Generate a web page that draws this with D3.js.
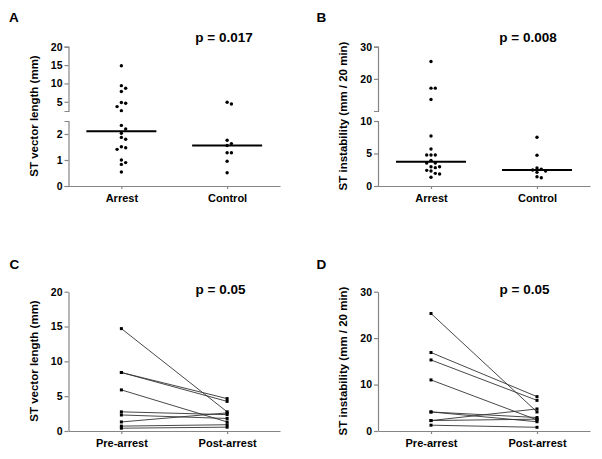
<!DOCTYPE html>
<html><head><meta charset="utf-8">
<script src="https://cdn.jsdelivr.net/npm/d3@7"></script>
<style>
body{margin:0;background:#fff}
text{font-family:"Liberation Sans",Arial,Helvetica,sans-serif;font-weight:bold}
</style>
</head><body>
<svg id="chart" width="602" height="459"></svg>
<script>
// ---------- data ----------
const groupCats = ["Arrest", "Control"];
const pairCats = ["Pre-arrest", "Post-arrest"];

const vecArrest = [14.8, 9.4, 8.7, 7.8, 4.8, 4.6, 3.7, 2.6, 2.33, 2.19, 2.03, 1.87, 1.8, 1.51, 1.47, 1.41, 1.0, 0.9, 0.83, 0.54];
const vecControl = [4.9, 4.4, 1.76, 1.63, 1.56, 1.28, 1.28, 0.95, 0.51];

const instArrest = [25.4, 17.1, 17.1, 13.6, 7.7, 5.7, 4.77, 4.77, 4.77, 3.95, 3.55, 3.55, 2.97, 2.82, 2.97, 2.41, 2.31, 1.95, 1.85, 1.34];
const instControl = [7.5, 4.72, 2.77, 2.6, 2.46, 2.3, 2.1, 1.43, 1.28];

const vecPre  = [14.7, 8.4, 8.4, 5.9, 2.75, 2.3, 1.3, 0.7, 0.4];
const vecPost = [2.75, 4.65, 4.25, 1.3, 2.35, 1.8, 2.6, 0.9, 0.55];

const instPre  = [25.3, 16.9, 15.3, 11.0, 4.1, 4.1, 2.25, 2.25, 1.25];
const instPost = [4.1, 7.4, 6.6, 2.4, 2.9, 2.0, 4.75, 2.55, 0.8];

const ticksALower = [0, 1, 2];
const ticksAUpper = [5, 10, 15, 20];
const ticksBLower = [0, 5, 10];
const ticksBUpper = [20, 30];
const ticksC = [0, 5, 10, 15, 20];
const ticksD = [0, 10, 20, 30];

const panelLetters = ["A", "B", "C", "D"];
const pLabels = ["p = 0.017", "p = 0.008", "p = 0.05", "p = 0.05"];
const titleVec = "ST vector length (mm)";
const titleInst = "ST instability (mm / 20 min)";

// ---------- drawing ----------
const svg = d3.select("#chart");
svg.append("rect").attr("width", 602).attr("height", 459).attr("fill", "#fff");
const AXIS = "#858585";

function styleAxis(g, fs) {
  g.attr("font-size", fs).attr("font-family", null).style("color", "#000");
  g.selectAll(".domain").attr("stroke", AXIS).attr("stroke-width", 1.2);
  g.selectAll(".tick line").attr("stroke", AXIS).attr("stroke-width", 1.2);
}

function swarm(values, xc, yfn, r) {
  const idx = values.map((v, i) => i).sort((a, b) => values[b] - values[a]);
  const placed = [];
  const step = 2 * r + 0.9;
  const out = new Array(values.length);
  idx.forEach(i => {
    const y = yfn(values[i]);
    for (let k = 0; k < 30; k++) {
      const off = k === 0 ? 0 : (k % 2 ? 1 : -1) * Math.ceil(k / 2) * step;
      const x = xc + off;
      const hit = placed.some(p => (p.x - x) ** 2 + (p.y - y) ** 2 < (2 * r + 0.7) ** 2);
      if (!hit) { placed.push({x, y}); out[i] = {x, y}; break; }
    }
  });
  return out;
}

function texts(cfg) {
  svg.append("text").attr("x", cfg.letterX).attr("y", cfg.letterY)
    .attr("font-size", 13.5).text(cfg.letter);
  svg.append("text").attr("x", cfg.pX).attr("y", cfg.pY).attr("text-anchor", "middle")
    .attr("font-size", 13.5).text(cfg.p);
  svg.append("text")
    .attr("transform", `translate(${cfg.titleX},${cfg.titleY}) rotate(-90)`)
    .attr("text-anchor", "middle").attr("font-size", 11.5).text(cfg.title);
}

function scatterPanel(cfg) {
  const lower = d3.scaleLinear().domain(cfg.lowerDomain).range([cfg.yBottom, cfg.yLowTop]);
  const upper = d3.scaleLinear().domain(cfg.upperDomain).range([cfg.yUpBottom, cfg.yTop]);
  const yf = v => v <= cfg.lowerDomain[1] ? lower(v) : upper(v);
  const x = d3.scalePoint().domain(groupCats).range([cfg.axisX, cfg.xEnd]).padding(0.5);

  const gl = svg.append("g").attr("transform", `translate(${cfg.axisX},0)`)
    .call(d3.axisLeft(lower).tickValues(cfg.lowerTicks).tickSize(4).tickSizeOuter(4).tickPadding(2).tickFormat(d3.format("d")));
  styleAxis(gl, 10.5);
  const gu = svg.append("g").attr("transform", `translate(${cfg.axisX},0)`)
    .call(d3.axisLeft(upper).tickValues(cfg.upperTicks).tickSize(4).tickSizeOuter(4).tickPadding(2).tickFormat(d3.format("d")));
  styleAxis(gu, 10.5);
  const gx = svg.append("g").attr("transform", `translate(0,${cfg.yBottom})`)
    .call(d3.axisBottom(x).tickSize(3).tickSizeOuter(0).tickPadding(5));
  styleAxis(gx, 11);

  [cfg.a, cfg.b].forEach((vals, gi) => {
    const xc = x(groupCats[gi]);
    const pts = swarm(vals, xc, yf, 1.7);
    svg.append("g").selectAll("circle").data(pts).join("circle")
      .attr("cx", d => d.x).attr("cy", d => d.y).attr("r", 1.7).attr("fill", "#000");
    const med = d3.median(vals);
    svg.append("line").attr("x1", xc - 35).attr("x2", xc + 35)
      .attr("y1", yf(med)).attr("y2", yf(med)).attr("stroke", "#000").attr("stroke-width", 2);
  });
  texts(cfg);
}

function pairPanel(cfg) {
  const y = d3.scaleLinear().domain(cfg.domain).range([cfg.yBottom, cfg.yTop]);
  const x = d3.scalePoint().domain(pairCats).range([cfg.axisX, cfg.xEnd]).padding(0.5);
  const gy = svg.append("g").attr("transform", `translate(${cfg.axisX},0)`)
    .call(d3.axisLeft(y).tickValues(cfg.ticks).tickSize(4).tickSizeOuter(0).tickPadding(2));
  styleAxis(gy, 10.5);
  const gx = svg.append("g").attr("transform", `translate(0,${cfg.yBottom})`)
    .call(d3.axisBottom(x).tickSize(3).tickSizeOuter(0).tickPadding(5));
  styleAxis(gx, 11);
  const pairs = cfg.pre.map((v, i) => ({pre: v, post: cfg.post[i]}));
  const g = svg.append("g");
  g.selectAll("line").data(pairs).join("line")
    .attr("x1", x(pairCats[0])).attr("x2", x(pairCats[1]))
    .attr("y1", d => y(d.pre)).attr("y2", d => y(d.post))
    .attr("stroke", "#333").attr("stroke-width", 0.9);
  const ends = pairs.flatMap(d => [{c: pairCats[0], v: d.pre}, {c: pairCats[1], v: d.post}]);
  g.selectAll("rect").data(ends).join("rect")
    .attr("x", d => x(d.c) - 1.5).attr("y", d => y(d.v) - 1.5)
    .attr("width", 3).attr("height", 3).attr("fill", "#000");
  texts(cfg);
}

scatterPanel({
  axisX: 68.5, xEnd: 280, yBottom: 186, yLowTop: 121, yUpBottom: 111, yTop: 46.7,
  lowerDomain: [0, 2.5], upperDomain: [2.5, 20], lowerTicks: ticksALower, upperTicks: ticksAUpper,
  a: vecArrest, b: vecControl,
  letter: panelLetters[0], letterX: 9, letterY: 22, p: pLabels[0], pX: 224, pY: 41.5,
  title: titleVec, titleX: 37.5, titleY: 116
});
scatterPanel({
  axisX: 378, xEnd: 590, yBottom: 186, yLowTop: 121, yUpBottom: 111, yTop: 46.7,
  lowerDomain: [0, 10], upperDomain: [10, 30], lowerTicks: ticksBLower, upperTicks: ticksBUpper,
  a: instArrest, b: instControl,
  letter: panelLetters[1], letterX: 316.5, letterY: 22, p: pLabels[1], pX: 528, pY: 41.5,
  title: titleInst, titleX: 347, titleY: 116
});
pairPanel({
  axisX: 68.5, xEnd: 280, yBottom: 431, yTop: 291.7, domain: [0, 20], ticks: ticksC,
  pre: vecPre, post: vecPost,
  letter: panelLetters[2], letterX: 9.5, letterY: 269, p: pLabels[2], pX: 220.5, pY: 294,
  title: titleVec, titleX: 37.5, titleY: 361
});
pairPanel({
  axisX: 378, xEnd: 590, yBottom: 431, yTop: 291.7, domain: [0, 30], ticks: ticksD,
  pre: instPre, post: instPost,
  letter: panelLetters[3], letterX: 316.5, letterY: 269, p: pLabels[3], pX: 524.5, pY: 294,
  title: titleInst, titleX: 347, titleY: 361
});
</script>
</body></html>
